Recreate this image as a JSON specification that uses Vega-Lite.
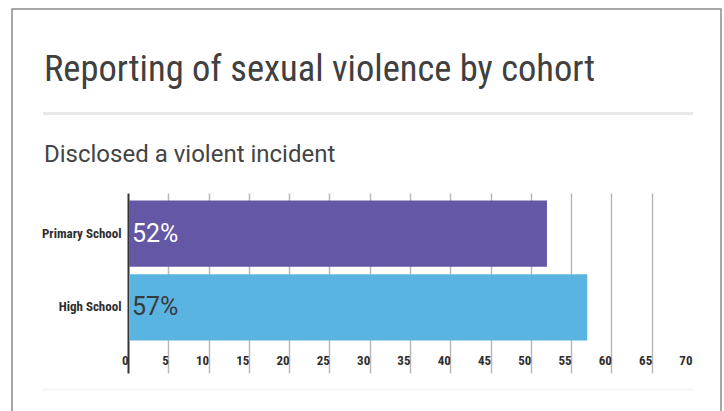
{
  "$schema": "https://vega.github.io/schema/vega-lite/v6.json",
  "width": 709,
  "height": 412,
  "autosize": {"type": "none"},
  "padding": {"left": 12, "top": 9, "right": 3, "bottom": -10},
  "background": "white",
  "config": {
    "view": {"stroke": "#8a8a8a", "strokeWidth": 1.5}
  },
  "title": {
    "text": "Reporting of sexual violence by cohort",
    "subtitle": "Disclosed a violent incident",
    "anchor": "start",
    "frame": "group",
    "orient": "top",
    "offset": -158,
    "dx": 32,
    "font": "Roboto Condensed, sans-serif",
    "fontSize": 36.5,
    "fontWeight": "normal",
    "color": "#404040",
    "subtitleFont": "Roboto",
    "subtitleFontSize": 24,
    "subtitleColor": "#444444",
    "subtitlePadding": 55
  },
  "data": {
    "values": [
      {"cohort": "Primary School", "pct": 52, "label": "52%"},
      {"cohort": "High School", "pct": 57, "label": "57%"}
    ]
  },
  "layer": [
    {
      "layer": [
        {
          "mark": {"type": "bar"},
          "encoding": {
            "y": {
              "field": "cohort",
              "type": "nominal",
              "sort": null,
              "scale": {"domain": ["Primary School", "High School"], "range": [191.5, 331.5], "paddingInner": 0.104, "paddingOuter": 0},
              "axis": {
                "orient": "left",
                "offset": -116,
                "title": null,
                "domain": false,
                "ticks": false,
                "tickSize": 0,
                "labelPadding": 7,
                "labelFont": "Roboto Condensed, sans-serif",
                "labelFontWeight": "bold",
                "labelFontSize": 13,
                "labelColor": "#2e2e2e"
              }
            },
            "x": {
              "field": "pct",
              "type": "quantitative",
              "scale": {"domain": [-14.397, 73.6], "nice": false, "zero": false},
              "axis": {
                "orient": "bottom",
                "offset": -48,
                "title": null,
                "values": [0, 5, 10, 15, 20, 25, 30, 35, 40, 45, 50, 55, 60, 65, 70],
                "domain": false,
                "grid": false,
                "ticks": true,
                "tickSize": -180,
                "tickColor": {"condition": {"test": "datum.value === 0", "value": "#333333"}, "value": "#bdb6b6"},
                "tickWidth": {"condition": {"test": "datum.value === 0", "value": 2}, "value": 1.5},
                "tickOpacity": {"condition": {"test": "datum.value === 70", "value": 0}, "value": 1},
                "labelAlign": "right",
                "labelBaseline": "middle",
                "labelDx": -4,
                "labelPadding": 167,
                "labelFlush": false,
                "labelOverlap": false,
                "labelBound": false,
                "labelFont": "Roboto Condensed, sans-serif",
                "labelFontWeight": "bold",
                "labelFontSize": 13,
                "labelColor": "#2e2e2e"
              }
            },
            "x2": {"datum": 0.13},
            "color": {
              "field": "cohort",
              "type": "nominal",
              "scale": {"domain": ["Primary School", "High School"], "range": ["#6457a6", "#5ab4e2"]},
              "legend": null
            }
          }
        },
        {
          "mark": {"type": "text", "align": "left", "baseline": "middle", "dx": 4, "font": "Roboto", "fontSize": 25},
          "encoding": {
            "y": {"field": "cohort", "type": "nominal", "sort": null},
            "x": {"datum": 0, "type": "quantitative"},
            "text": {"field": "label"},
            "color": {"condition": {"test": "datum.cohort === 'Primary School'", "value": "#ffffff"}, "value": "#3a3a3a"}
          }
        }
      ]
    },
    {
      "data": {"values": [{}]},
      "layer": [
        {
          "mark": {"type": "rule", "color": "#e8e8e8", "strokeWidth": 3},
          "encoding": {
            "x": {"datum": -10.55, "type": "quantitative"},
            "x2": {"datum": 70.13},
            "y": {"datum": 104.5, "type": "quantitative", "scale": {"domain": [0, 412], "reverse": true, "nice": false, "zero": false}, "axis": null}
          }
        },
        {
          "mark": {"type": "rule", "color": "#f5f5f5", "strokeWidth": 2},
          "encoding": {
            "x": {"datum": -10.67, "type": "quantitative"},
            "x2": {"datum": 70.13},
            "y": {"datum": 380.5, "type": "quantitative"}
          }
        }
      ]
    }
  ],
  "resolve": {"scale": {"y": "independent"}}
}
